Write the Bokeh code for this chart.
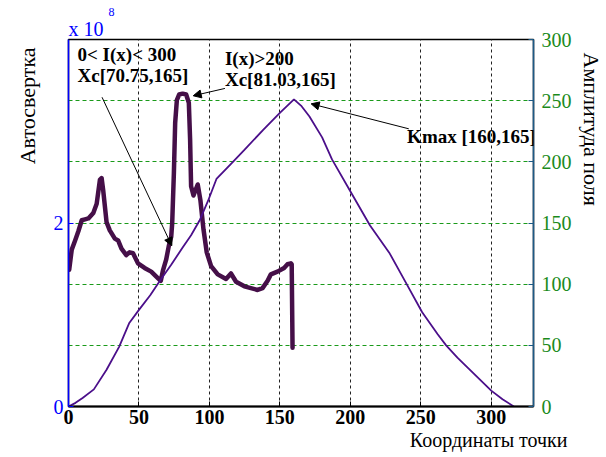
from bokeh.plotting import figure
from bokeh.models import Range1d, LinearAxis, FixedTicker, Label, Arrow, NormalHead, Title
from bokeh.embed import file_html
from bokeh.resources import INLINE

# ---- data ----
# Autoconvolution (left axis, units of 1e8)
auto_x = [0.5, 2.3, 4.7, 7.0, 9.4, 11.7, 14.1, 17.6, 20.0, 22.3, 23.5, 24.6, 27.0, 29.3, 32.9,
          35.2, 37.6, 41.0, 43.4, 45.8, 49.3, 54.0, 58.7, 63.4, 65.5, 67.0, 69.3, 71.2, 72.9,
          73.6, 74.8, 75.7, 76.9, 78.5, 81.0, 83.5, 85.4, 86.3, 87.0, 88.7, 90.2, 91.7, 93.6,
          95.8, 98.1, 101.2, 105.9, 111.8, 115.3, 118.9, 124.8, 134.2, 137.7, 141.3, 143.6,
          148.3, 153.0, 155.4, 157.8, 158.4, 159.0]
auto_e8 = [1.49, 1.71, 1.81, 1.91, 2.03, 2.04, 2.05, 2.11, 2.21, 2.47, 2.49, 2.36, 2.01, 1.92, 1.83,
           1.81, 1.72, 1.65, 1.68, 1.67, 1.56, 1.51, 1.47, 1.40, 1.37, 1.48, 1.60, 1.75, 1.85,
           2.00, 2.55, 3.09, 3.34, 3.40, 3.41, 3.40, 3.31, 2.91, 2.40, 2.30, 2.36, 2.42, 2.25,
           1.93, 1.68, 1.53, 1.44, 1.39, 1.45, 1.36, 1.31, 1.27, 1.29, 1.37, 1.44,
           1.47, 1.51, 1.55, 1.56, 1.55, 0.64]

# Field amplitude (right axis)
field_x = [0, 5, 10, 18, 27, 36, 43, 50, 58, 65, 73, 81, 87, 93, 99, 105, 115, 125, 138, 150,
           160, 165, 171, 180, 187, 200, 214, 228, 240, 251, 262, 268, 276, 284, 292, 300, 308, 316]
field_amp = [0, 3, 7, 14, 30, 49, 68, 79, 91, 103, 116, 130, 140, 152, 168, 186, 198, 210, 226, 240,
             251, 246, 237, 220, 202, 176, 148, 125, 100, 77, 59, 50, 40, 31, 22, 13, 6, 0]

x_ticks = [0, 50, 100, 150, 200, 250, 300]
right_ticks = [0, 50, 100, 150, 200, 250, 300]
left_ticks = [0, 2]

SERIF = "Liberation Serif"

p = figure(width=606, height=457, x_range=Range1d(0, 330), y_range=Range1d(0, 300),
           y_axis_location="right", output_backend="svg", toolbar_location=None,
           min_border_left=68, min_border_right=71, min_border_top=39, min_border_bottom=51)
p.title.visible = False
p.background_fill_color = "white"
p.border_fill_color = "white"
p.outline_line_color = "black"
p.outline_line_width = 1.5

p.extra_y_ranges = {"auto": Range1d(0, 4)}

# right axis (primary range)
ar = p.yaxis[0]
ar.ticker = FixedTicker(ticks=right_ticks)
ar.major_label_text_color = "#1a8a1a"
ar.major_label_text_font = SERIF
ar.major_label_text_font_size = "20px"
ar.axis_line_color = "#1d5a86"
ar.axis_line_width = 1.5
ar.major_tick_in = 5
ar.major_tick_out = 0
ar.major_tick_line_color = "#1d5a86"
ar.minor_tick_line_color = None
ar.major_label_standoff = 8

# left axis
al = LinearAxis(y_range_name="auto", ticker=FixedTicker(ticks=left_ticks))
al.major_label_text_color = "#0000ff"
al.major_label_text_font = SERIF
al.major_label_text_font_size = "20px"
al.axis_line_color = "#0000ff"
al.axis_line_width = 1.5
al.major_tick_in = 5
al.major_tick_out = 0
al.major_tick_line_color = "#0000ff"
al.minor_tick_line_color = None
al.major_label_standoff = 5
p.add_layout(al, "left")

# bottom axis
ax = p.xaxis[0]
ax.ticker = FixedTicker(ticks=x_ticks)
ax.major_label_text_font = SERIF
ax.major_label_text_font_style = "bold"
ax.major_label_text_font_size = "20px"
ax.major_label_text_color = "black"
ax.axis_line_color = "black"
ax.axis_line_width = 2
ax.major_tick_in = 5
ax.major_tick_out = 0
ax.minor_tick_line_color = None
ax.major_label_standoff = 3

# grids
p.xgrid.ticker = FixedTicker(ticks=x_ticks[1:])
p.xgrid.grid_line_color = "#222222"
p.xgrid.grid_line_dash = "3 3"
p.xgrid.grid_line_width = 1
p.ygrid.ticker = FixedTicker(ticks=right_ticks[1:-1])
p.ygrid.grid_line_color = "#1a9a1a"
p.ygrid.grid_line_dash = "4 3"
p.ygrid.grid_line_width = 1

# curves
p.line(auto_x, auto_e8, y_range_name="auto", line_color="#450f48", line_width=4.5,
       line_join="round", line_cap="round")
p.line(field_x, field_amp, line_color="#4b0f8a", line_width=1.8)

# annotations inside the plot
def lab(text, x, y, size="19px"):
    p.add_layout(Label(x=x, y=y, text=text, text_font=SERIF, text_font_size=size,
                       text_font_style="bold", text_color="black",
                       text_align="left", text_baseline="middle"))

lab("0< I(x)< 300", 6.4, 287.5)
lab("Xc[70.75,165]", 6.4, 270.5)
lab("I(x)>200", 111.0, 284.5)
lab("Xc[81.03,165]", 111.0, 267.0)
lab("Kmax [160,165]", 240.3, 220.7)

def head():
    return NormalHead(size=8, fill_color="black", line_color="black")

p.add_layout(Arrow(end=head(), x_start=23.8, y_start=252.8, x_end=73.3, y_end=131.4,
                   line_color="black", line_width=1))
p.add_layout(Arrow(end=head(), x_start=111.0, y_start=260.0, x_end=88.5, y_end=254.0,
                   line_color="black", line_width=1))
p.add_layout(Arrow(end=head(), x_start=241.5, y_start=227.0, x_end=172.2, y_end=247.4,
                   line_color="black", line_width=1))

# axis titles and multiplier as border titles
def border_title(text, side, align, offset, standoff, size, color="black", valign="bottom"):
    p.add_layout(Title(text=text, align=align, offset=offset, standoff=standoff,
                       vertical_align=valign,
                       text_font=SERIF, text_font_size=size, text_font_style="normal",
                       text_color=color), side)

border_title("x 10", "above", "left", 0, -5, "20px", "#0000ff", valign="top")
border_title("8", "above", "left", 40, 10, "12px", "#0000ff")
border_title("Автосвертка", "left", "right", 8, 22, "22px")
border_title("Амплитуда поля", "right", "left", 13, 5, "22px", valign="top")
border_title("Координаты точки", "below", "right", -34, 0, "20px")

open("out.html", "w").write(file_html(p, INLINE))
